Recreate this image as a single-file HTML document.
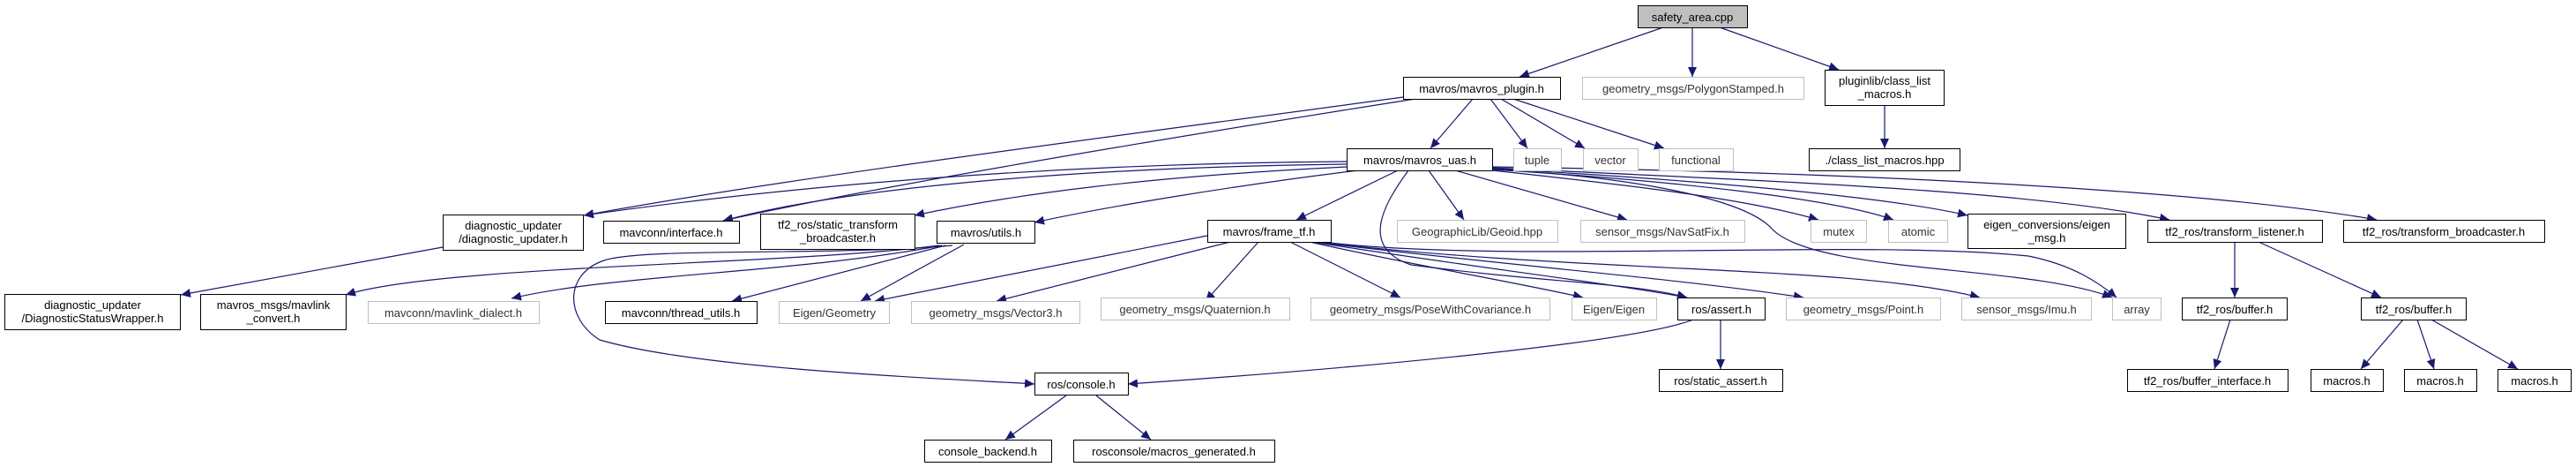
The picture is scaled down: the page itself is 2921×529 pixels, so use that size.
<!DOCTYPE html>
<html><head><meta charset="utf-8"><style>
html,body{margin:0;padding:0;background:#fff;}
svg{display:block;}
text{font-family:"Liberation Sans",sans-serif;font-size:13px;fill:#000;}
.g text{fill:#333;}
</style></head><body>
<svg width="2921" height="529" viewBox="0 0 2921 529" xmlns="http://www.w3.org/2000/svg">
<defs>
<marker id="a" markerUnits="userSpaceOnUse" markerWidth="12" markerHeight="10" refX="11" refY="5" orient="auto">
<path d="M0,0 L11,5 L0,10 z" fill="#191970"/>
</marker>
</defs>
<g fill="none" stroke="#191970" stroke-width="1.2" marker-end="url(#a)">
<path d="M1886,31 L1723,87"/>
<path d="M1919,31 L1919,87"/>
<path d="M1950,31 L2085,79"/>
<path d="M2137,119 L2137,168"/>
<path d="M1670,112 L1622,168"/>
<path d="M1690,112 L1732,168"/>
<path d="M1702,112 L1797,168"/>
<path d="M1716,112 L1887,168"/>
<path d="M1591,110 C1300,150 900,200 662,244"/>
<path d="M1605,112 C1300,160 1000,210 820,250"/>
<path d="M1527,183 C1200,185 900,210 662,244"/>
<path d="M1527,186 C1200,190 950,215 820,250"/>
<path d="M1527,189 C1300,200 1150,220 1037,244"/>
<path d="M1540,193 C1400,210 1250,235 1173,252"/>
<path d="M1585,193 L1470,249"/>
<path d="M1620,193 L1660,249"/>
<path d="M1650,193 L1845,249"/>
<path d="M1692,193 C1850,210 1980,225 2062,249"/>
<path d="M1692,192 C1900,205 2080,225 2147,249"/>
<path d="M1692,191 C1950,205 2150,225 2231,244"/>
<path d="M1692,190 C2000,205 2300,215 2460,249"/>
<path d="M1692,189 C2100,195 2500,215 2695,249"/>
<path d="M1692,192 C1850,200 1980,225 2010,260 C2060,310 2300,300 2395,337"/>
<path d="M1597,193 C1570,230 1540,280 1600,300 C1750,320 1850,320 1913,337"/>
<path d="M1080,278 C950,290 730,280 685,295 C640,310 640,360 680,385 C800,420 1100,430 1173,435"/>
<path d="M1065,278 C900,300 500,300 392,334"/>
<path d="M1068,278 C900,310 700,310 580,338"/>
<path d="M1072,278 L830,341"/>
<path d="M1093,277 L976,341"/>
<path d="M1369,267 L992,341"/>
<path d="M1395,274 L1130,341"/>
<path d="M1427,274 L1367,341"/>
<path d="M1463,274 L1588,337"/>
<path d="M1485,274 C1600,300 1720,320 1795,337"/>
<path d="M1488,274 C1650,300 1820,320 1913,337"/>
<path d="M1490,274 C1700,300 1900,315 2045,337"/>
<path d="M1492,274 C1800,310 2100,300 2245,337"/>
<path d="M1490,273 C1700,300 2100,270 2300,290 C2350,300 2380,320 2400,337"/>
<path d="M502,280 L205,334"/>
<path d="M2534,274 L2534,337"/>
<path d="M2561,274 L2700,337"/>
<path d="M2529,362 L2511,418"/>
<path d="M2725,362 L2677,418"/>
<path d="M2741,362 L2760,418"/>
<path d="M2757,362 L2855,418"/>
<path d="M1951,362 L1951,418"/>
<path d="M1920,362 C1850,390 1500,420 1279,435"/>
<path d="M1209,448 L1140,498"/>
<path d="M1243,448 L1305,498"/>
</g>
<g stroke="#000" stroke-width="1" fill="#fff">
<rect x="1857.5" y="6.5" width="124" height="25" fill="#bfbfbf"/>
<rect x="1591.5" y="87.5" width="178" height="25"/>
<rect x="2069.5" y="79.5" width="135" height="40"/>
<rect x="2051.5" y="168.5" width="171" height="25"/>
<rect x="1527.5" y="168.5" width="165" height="25"/>
<rect x="1369.5" y="249.5" width="140" height="25"/>
<rect x="684.5" y="250.5" width="154" height="25"/>
<rect x="862.5" y="242.5" width="175" height="40"/>
<rect x="1062.5" y="250.5" width="111" height="25"/>
<rect x="502.5" y="243.5" width="159" height="40"/>
<rect x="2231.5" y="242.5" width="179" height="39"/>
<rect x="2435.5" y="249.5" width="198" height="25"/>
<rect x="2657.5" y="249.5" width="228" height="25"/>
<rect x="5.5" y="333.5" width="199" height="40"/>
<rect x="227.5" y="333.5" width="165" height="40"/>
<rect x="686.5" y="341.5" width="172" height="25"/>
<rect x="1902.5" y="337.5" width="99" height="25"/>
<rect x="2474.5" y="337.5" width="119" height="25"/>
<rect x="2677.5" y="337.5" width="119" height="25"/>
<rect x="1173.5" y="422.5" width="106" height="25"/>
<rect x="1881.5" y="418.5" width="140" height="25"/>
<rect x="2412.5" y="418.5" width="182" height="25"/>
<rect x="2620.5" y="418.5" width="82" height="25"/>
<rect x="2726.5" y="418.5" width="82" height="25"/>
<rect x="2832.5" y="418.5" width="83" height="25"/>
<rect x="1048.5" y="498.5" width="144" height="25"/>
<rect x="1217.5" y="498.5" width="228" height="25"/>
</g>
<g stroke="#bfbfbf" stroke-width="1" fill="#fff">
<rect x="1794.5" y="87.5" width="251" height="25"/>
<rect x="1716.5" y="168.5" width="54" height="25"/>
<rect x="1795.5" y="168.5" width="62" height="25"/>
<rect x="1881.5" y="168.5" width="84" height="25"/>
<rect x="1584.5" y="249.5" width="182" height="25"/>
<rect x="1792.5" y="249.5" width="186" height="25"/>
<rect x="2053.5" y="249.5" width="63" height="25"/>
<rect x="2141.5" y="249.5" width="67" height="25"/>
<rect x="417.5" y="341.5" width="194" height="25"/>
<rect x="883.5" y="341.5" width="125" height="25"/>
<rect x="1033.5" y="341.5" width="191" height="25"/>
<rect x="1248.5" y="337.5" width="214" height="25"/>
<rect x="1486.5" y="337.5" width="271" height="25"/>
<rect x="1782.5" y="337.5" width="96" height="25"/>
<rect x="2025.5" y="337.5" width="175" height="25"/>
<rect x="2224.5" y="337.5" width="147" height="25"/>
<rect x="2395.5" y="337.5" width="55" height="25"/>
</g>
<g text-anchor="middle">
<text x="1919" y="24">safety_area.cpp</text>
<text x="1680" y="105">mavros/mavros_plugin.h</text>
<text x="2137" y="96">pluginlib/class_list</text>
<text x="2137" y="111">_macros.h</text>
<text x="2137" y="186">./class_list_macros.hpp</text>
<text x="1610" y="186">mavros/mavros_uas.h</text>
<text x="1439" y="267">mavros/frame_tf.h</text>
<text x="761" y="268">mavconn/interface.h</text>
<text x="950" y="259">tf2_ros/static_transform</text>
<text x="950" y="274">_broadcaster.h</text>
<text x="1118" y="268">mavros/utils.h</text>
<text x="582" y="260">diagnostic_updater</text>
<text x="582" y="275">/diagnostic_updater.h</text>
<text x="2321" y="259">eigen_conversions/eigen</text>
<text x="2321" y="274">_msg.h</text>
<text x="2534" y="267">tf2_ros/transform_listener.h</text>
<text x="2771" y="267">tf2_ros/transform_broadcaster.h</text>
<text x="105" y="350">diagnostic_updater</text>
<text x="105" y="365">/DiagnosticStatusWrapper.h</text>
<text x="310" y="350">mavros_msgs/mavlink</text>
<text x="310" y="365">_convert.h</text>
<text x="772" y="359">mavconn/thread_utils.h</text>
<text x="1952" y="355">ros/assert.h</text>
<text x="2534" y="355">tf2_ros/buffer.h</text>
<text x="2737" y="355">tf2_ros/buffer.h</text>
<text x="1226" y="440">ros/console.h</text>
<text x="1951" y="436">ros/static_assert.h</text>
<text x="2503" y="436">tf2_ros/buffer_interface.h</text>
<text x="2661" y="436">macros.h</text>
<text x="2767" y="436">macros.h</text>
<text x="2874" y="436">macros.h</text>
<text x="1120" y="516">console_backend.h</text>
<text x="1331" y="516">rosconsole/macros_generated.h</text>
</g>
<g text-anchor="middle" class="g">
<text x="1920" y="105">geometry_msgs/PolygonStamped.h</text>
<text x="1743" y="186">tuple</text>
<text x="1826" y="186">vector</text>
<text x="1923" y="186">functional</text>
<text x="1675" y="267">GeographicLib/Geoid.hpp</text>
<text x="1885" y="267">sensor_msgs/NavSatFix.h</text>
<text x="2085" y="267">mutex</text>
<text x="2175" y="267">atomic</text>
<text x="514" y="359">mavconn/mavlink_dialect.h</text>
<text x="946" y="359">Eigen/Geometry</text>
<text x="1129" y="359">geometry_msgs/Vector3.h</text>
<text x="1355" y="355">geometry_msgs/Quaternion.h</text>
<text x="1622" y="355">geometry_msgs/PoseWithCovariance.h</text>
<text x="1830" y="355">Eigen/Eigen</text>
<text x="2113" y="355">geometry_msgs/Point.h</text>
<text x="2298" y="355">sensor_msgs/Imu.h</text>
<text x="2423" y="355">array</text>
</g>
</svg>
</body></html>
